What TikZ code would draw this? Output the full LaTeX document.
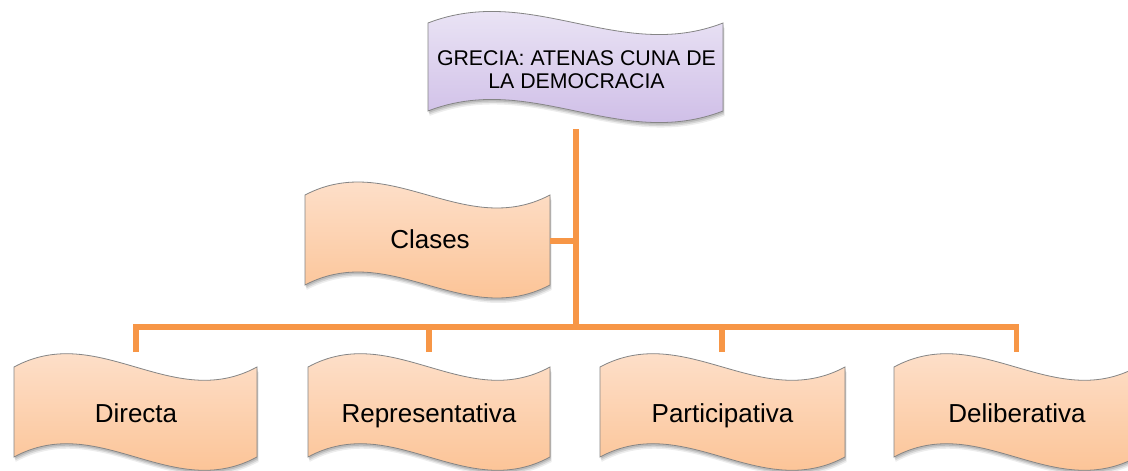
\documentclass[tikz,border=0pt]{standalone}
\usepackage{fontspec}
\setmainfont{Liberation Sans}
\definecolor{connc}{HTML}{F79646}
\definecolor{peachtop}{HTML}{FEE6D6}
\definecolor{peachbot}{HTML}{FBBD8A}
\definecolor{lavtop}{HTML}{F0ECF8}
\definecolor{lavbot}{HTML}{C9B6E4}
\definecolor{edgec}{HTML}{858585}
% #1 x0, #2 y0, #3 W, #4 H, #5 wave depth, #6 style
\newcommand{\wv}[6]{\path[#6] (#1,#2) .. controls ({#1+0.35*(#3)},{#2-(#5)}) and ({#1+0.65*(#3)},{#2+(#5)}) .. ({#1+#3},#2) -- ({#1+#3},{#2+#4}) .. controls ({#1+0.65*(#3)},{#2+#4+(#5)}) and ({#1+0.35*(#3)},{#2+#4-(#5)}) .. (#1,{#2+#4}) -- cycle;}
\newcommand{\wavebox}[6]{%
  \wv{#1+1.5}{#2+5}{#3}{#4}{#5}{fill=black,opacity=0.07}%
  \wv{#1+1}{#2+3.5}{#3}{#4}{#5}{fill=black,opacity=0.10}%
  \wv{#1+0.5}{#2+2}{#3}{#4}{#5}{fill=black,opacity=0.12}%
  \wv{#1}{#2}{#3}{#4}{#5}{#6}}
\begin{document}
\begin{tikzpicture}[x=1pt,y=-1pt,
  conn/.style={draw=connc,line width=5.5pt},
  peach/.style={top color=peachtop,bottom color=peachbot,draw=edgec,line width=0.8pt},
  lav/.style={top color=lavtop,bottom color=lavbot,draw=edgec,line width=0.8pt},
  lbl/.style={font=\fontsize{26}{30}\selectfont,inner sep=0pt,anchor=base},
  toplbl/.style={font=\fontsize{21.3}{23.5}\selectfont,inner sep=0pt,align=center,anchor=base}]
\useasboundingbox (0,0) rectangle (1128,471);
\fill[white] (0,0) rectangle (1128,471);
% shapes
\wavebox{428}{23}{295}{88}{40}{lav}
\wavebox{305}{195}{245}{90}{45}{peach}
\wavebox{14}{367}{243}{90}{46}{peach}
\wavebox{308}{367}{242}{90}{46}{peach}
\wavebox{600}{367}{245}{90}{46}{peach}
\wavebox{894}{367}{243}{90}{46}{peach}
% labels
\node[toplbl] (grecia) at (576.5,88.5) {GRECIA: ATENAS CUNA DE\\LA DEMOCRACIA};
\node[lbl] (clases) at (430,248) {Clases};
\node[lbl] (directa) at (136,422) {Directa};
\node[lbl] (repr) at (429,422.5) {Representativa};
\node[lbl] (part) at (722.5,422) {Participativa};
\node[lbl] (delib) at (1017,422) {Deliberativa};
% connector anchor points
\coordinate (trunk) at (576,129);
\coordinate (bus) at (576,327);
\coordinate (clasesR) at (550,241);
\coordinate (dA) at (136,352);
\coordinate (dB) at (429,352);
\coordinate (dC) at (722,352);
\coordinate (dD) at (1016.5,352);
% connectors
\draw[conn] (trunk) -- (bus);
\draw[conn] (clasesR) -- (clasesR-|trunk);
\draw[conn] (dA) -- (dA|-bus) -- (dD|-bus) -- (dD);
\draw[conn] (dB) -- (dB|-bus);
\draw[conn] (dC) -- (dC|-bus);
\end{tikzpicture}
\end{document}
